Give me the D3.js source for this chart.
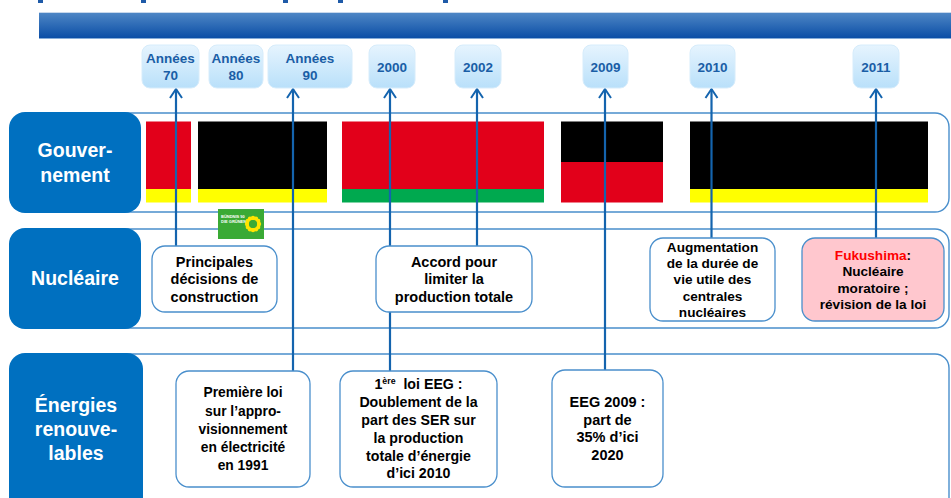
<!DOCTYPE html>
<html>
<head>
<meta charset="utf-8">
<script src="https://cdn.jsdelivr.net/npm/d3@7"></script>
<style>
  body { margin: 0; background: #fff; }
  text { font-family: "Liberation Sans", Arial, sans-serif; font-weight: bold; }
</style>
</head>
<body>
<script>

var width = 951, height = 498;

// ---- data ----
var periods = ["Années 70", "Années 80", "Années 90", "2000", "2002", "2009", "2010", "2011"];
var periodLines = [["Années", "70"], ["Années", "80"], ["Années", "90"], ["2000"], ["2002"], ["2009"], ["2010"], ["2011"]];

var rows = ["Gouvernement", "Nucléaire", "Énergies renouvelables"];
var rowLabels = [["Gouver-", "nement"], ["Nucléaire"], ["Énergies", "renouve-", "lables"]];

// coalitions in power, main party first, with relative weight of each part
var coalitions = [["SPD", "FDP"], ["CDU/CSU", "FDP"], ["SPD", "Grünen"], ["CDU/CSU", "SPD"], ["CDU/CSU", "FDP"]];
var coalitionShares = [[5, 1], [5, 1], [5, 1], [1, 1], [5, 1]];

var eventPeriods = ["Années 70", "2002", "2010", "2011", "Années 90", "2000", "2009"];
var eventRows = ["Nucléaire", "Nucléaire", "Nucléaire", "Nucléaire",
                 "Énergies renouvelables", "Énergies renouvelables", "Énergies renouvelables"];
var eventTexts = [
  ["Principales", "décisions de", "construction"],
  ["Accord pour", "limiter la", "production totale"],
  ["Augmentation", "de la durée de", "vie utile des", "centrales", "nucléaires"],
  ["Fukushima:", "Nucléaire", "moratoire ;", "révision de la loi"],
  ["Première loi", "sur l’appro-", "visionnement", "en électricité", "en 1991"],
  ["1^ère^  loi EEG :", "Doublement de la", "part des SER sur", "la production", "totale d’énergie", "d’ici 2010"],
  ["EEG 2009 :", "part de", "35% d’ici", "2020"]
];
var highlightWord = "Fukushima";

// ---- layout ----
var partyColor = d3.scaleOrdinal()
  .domain(["SPD", "FDP", "CDU/CSU", "Grünen"])
  .range(["#e2001a", "#ffff00", "#000000", "#00a94f"]);

var periodBox = d3.scaleOrdinal().domain(periods)
  .range([[142, 199], [209, 263], [268, 352], [369, 415], [455, 501], [583, 628], [690, 735], [853, 899]]);
var arrowX = d3.scaleOrdinal().domain(periods)
  .range([176, 236, 293, 390, 477, 605, 711.5, 876]);

var rowFrame = d3.scaleOrdinal().domain(rows).range([[113, 212], [229, 328], [354, 520]]);
var rowLabelBox = d3.scaleOrdinal().domain(rows).range([[112, 213, 141], [228, 329, 141], [353, 520, 143]]);

var govX = [[146, 191], [198, 327], [342, 544], [561, 663], [690, 928]];
var govY = d3.scaleLinear().domain([0, 1]).range([121.5, 202.5]);

var eventBox = [
  [152, 277, 246, 312], [376, 532, 246, 312], [650, 775, 238, 321], [802, 944, 238, 321],
  [176, 310, 371, 487], [340, 497, 371, 487], [552, 663, 370, 487]
];
var eventFont = [14.5, 14.5, 13.6, 13.6, 13.8, 14.2, 14.5];
var eventLead = [17.5, 17.5, 16.3, 16.5, 18.2, 17.8, 17.7];

var blue = "#0070c0", frameBlue = "#4a8fcc", arrowBlue = "#1464ae";

var svg = d3.select("body").append("svg")
  .attr("width", width)
  .attr("height", height);

var defs = svg.append("defs");
var hg = defs.append("linearGradient").attr("id", "headGrad").attr("x1", 0).attr("y1", 0).attr("x2", 0).attr("y2", 1);
hg.append("stop").attr("offset", "0%").attr("stop-color", "#5088c6");
hg.append("stop").attr("offset", "100%").attr("stop-color", "#0b4ea6");
var yg = defs.append("linearGradient").attr("id", "yearGrad").attr("x1", 0).attr("y1", 0).attr("x2", 0).attr("y2", 1);
yg.append("stop").attr("offset", "0%").attr("stop-color", "#e6f4fe");
yg.append("stop").attr("offset", "100%").attr("stop-color", "#b9e0fa");

// remnants of the cut title
svg.selectAll("rect.ttl").data([38, 141, 283, 338, 443]).enter().append("rect")
  .attr("class", "ttl").attr("x", function (d) { return d; }).attr("y", 0)
  .attr("width", 5).attr("height", 3).attr("fill", "#1e5aa8");

// header band
svg.append("rect").attr("x", 39).attr("y", 12).attr("width", width - 39).attr("height", 26)
  .attr("fill", "url(#headGrad)");
svg.append("line").attr("x1", 39).attr("x2", width).attr("y1", 12.5).attr("y2", 12.5)
  .attr("stroke", "#c8d8ec").attr("stroke-width", 1);
svg.append("line").attr("x1", 39).attr("x2", width).attr("y1", 38.5).attr("y2", 38.5)
  .attr("stroke", "#86acd8").attr("stroke-width", 1);

// row frames
svg.selectAll("rect.frame").data(rows).enter().append("rect")
  .attr("class", "frame")
  .attr("x", 100).attr("width", 849)
  .attr("y", function (d) { return rowFrame(d)[0]; })
  .attr("height", function (d) { return rowFrame(d)[1] - rowFrame(d)[0]; })
  .attr("rx", 14)
  .attr("fill", "none").attr("stroke", frameBlue).attr("stroke-width", 1.4);

// government bars
coalitions.forEach(function (parties, i) {
  var shares = coalitionShares[i], total = d3.sum(shares), acc = 0;
  parties.forEach(function (p, j) {
    var y0 = govY(acc / total);
    acc += shares[j];
    var y1 = govY(acc / total);
    svg.append("rect")
      .attr("x", govX[i][0]).attr("width", govX[i][1] - govX[i][0])
      .attr("y", y0).attr("height", y1 - y0)
      .attr("fill", partyColor(p));
  });
});

// green party logo
var logo = svg.append("g").attr("transform", "translate(218,209)");
logo.append("rect").attr("width", 46).attr("height", 30).attr("fill", "#3aaa35");
logo.append("text").attr("x", 3).attr("y", 9).attr("font-size", 4).attr("fill", "#fff").text("BÜNDNIS 90");
logo.append("text").attr("x", 3).attr("y", 14).attr("font-size", 4).attr("fill", "#fff").text("DIE GRÜNEN");
var sun = logo.append("g").attr("transform", "translate(35,15)");
sun.selectAll("circle.petal").data(d3.range(12)).enter().append("circle")
  .attr("class", "petal")
  .attr("cx", function (d) { return 6 * Math.cos(d / 12 * 2 * Math.PI); })
  .attr("cy", function (d) { return 6 * Math.sin(d / 12 * 2 * Math.PI); })
  .attr("r", 2.2).attr("fill", "#ffe500");
sun.append("circle").attr("r", 4).attr("fill", "#3aaa35");

// arrows from the periods to the events
var arrowTarget = {};
eventPeriods.forEach(function (p, i) { arrowTarget[p] = eventBox[i][2]; });

var arrows = svg.selectAll("g.arrow").data(eventPeriods).enter().append("g").attr("class", "arrow");
arrows.append("line")
  .attr("x1", function (d) { return arrowX(d); }).attr("x2", function (d) { return arrowX(d); })
  .attr("y1", 89).attr("y2", function (d) { return arrowTarget[d]; })
  .attr("stroke", arrowBlue).attr("stroke-width", 2.2);
arrows.append("path")
  .attr("d", function (d) {
    var x = arrowX(d);
    return d3.line()([[x - 6, 98], [x, 89], [x + 6, 98]]);
  })
  .attr("fill", "none").attr("stroke", arrowBlue).attr("stroke-width", 2);

// event boxes
function writeLine(sel, str, size) {
  var parts = str.split(/(\^[^^]*\^|Fukushima)/).filter(function (s) { return s.length; });
  var back = 0;
  parts.forEach(function (s) {
    var ts;
    if (s[0] === "^") {
      ts = sel.append("tspan").attr("font-size", size * 0.62).attr("dy", -5 + back).text(s.slice(1, -1));
      back = 5;
      return;
    } else if (s === highlightWord) {
      ts = sel.append("tspan").attr("fill", "#ff0000").text(s);
    } else {
      ts = sel.append("tspan").attr("fill", "#000").text(s);
    }
    if (back) { ts.attr("dy", back); back = 0; }
  });
}

eventTexts.forEach(function (lines, i) {
  var b = eventBox[i];
  var g = svg.append("g");
  g.append("rect")
    .attr("x", b[0]).attr("y", b[2]).attr("width", b[1] - b[0]).attr("height", b[3] - b[2])
    .attr("rx", 13)
    .attr("fill", eventPeriods[i] === "2011" ? "#ffc7ce" : "#fff")
    .attr("stroke", frameBlue).attr("stroke-width", 1.3);
  var cx = (b[0] + b[1]) / 2, cy = (b[2] + b[3]) / 2;
  var lead = eventLead[i], fs = eventFont[i];
  lines.forEach(function (ln, k) {
    var t = g.append("text")
      .attr("x", cx)
      .attr("y", cy + (k - (lines.length - 1) / 2) * lead + fs * 0.35)
      .attr("text-anchor", "middle")
      .attr("font-size", fs)
      .attr("xml:space", "preserve")
      .style("white-space", "pre");
    writeLine(t, ln, fs);
  });
});

// row labels
rows.forEach(function (r, i) {
  var b = rowLabelBox(r);
  svg.append("rect")
    .attr("x", 9).attr("y", b[0]).attr("width", b[2] - 9).attr("height", b[1] - b[0])
    .attr("rx", 16).attr("fill", blue);
  var lines = rowLabels[i];
  var cy = i === 2 ? 429 : (b[0] + b[1]) / 2;
  var lead = i === 2 ? 24 : 25;
  lines.forEach(function (ln, k) {
    svg.append("text")
      .attr("x", (9 + b[2]) / 2)
      .attr("y", cy + (k - (lines.length - 1) / 2) * lead)
      .attr("dy", "0.35em")
      .attr("text-anchor", "middle")
      .attr("font-size", 19.5)
      .attr("fill", "#fff")
      .text(ln);
  });
});

// period boxes
var pb = svg.selectAll("g.period").data(periods).enter().append("g").attr("class", "period");
pb.append("rect")
  .attr("x", function (d) { return periodBox(d)[0]; })
  .attr("width", function (d) { return periodBox(d)[1] - periodBox(d)[0]; })
  .attr("y", 45).attr("height", 43).attr("rx", 8)
  .attr("fill", "url(#yearGrad)").attr("stroke", "#d6ecfb").attr("stroke-width", 1);
pb.each(function (d, i) {
  var lines = periodLines[i];
  var cx = (periodBox(d)[0] + periodBox(d)[1]) / 2;
  var g = d3.select(this);
  lines.forEach(function (ln, k) {
    g.append("text")
      .attr("x", cx)
      .attr("y", 67 + (k - (lines.length - 1) / 2) * 17)
      .attr("dy", "0.35em")
      .attr("text-anchor", "middle")
      .attr("font-size", 13.5)
      .attr("fill", "#1a5ea6")
      .text(ln);
  });
});

</script>
</body>
</html>
